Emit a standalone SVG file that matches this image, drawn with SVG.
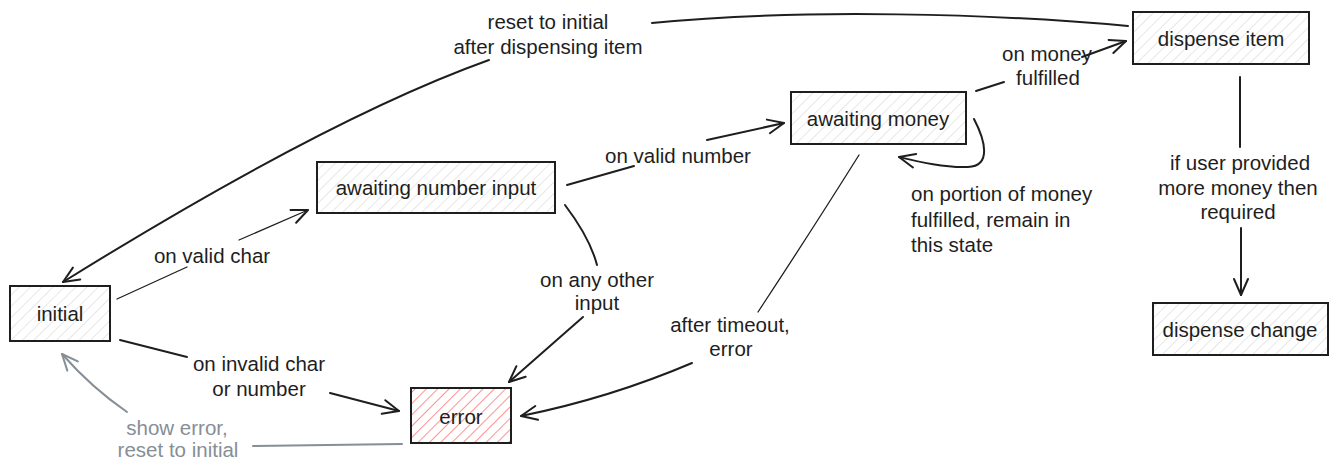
<svg xmlns="http://www.w3.org/2000/svg" width="1337" height="471" viewBox="0 0 1337 471">
  <defs>
    <pattern id="hatchGray" patternUnits="userSpaceOnUse" width="8" height="8" patternTransform="rotate(45)">
      <line x1="0" y1="0" x2="0" y2="8" stroke="#cfcfcf" stroke-width="1"/>
    </pattern>
    <pattern id="hatchRed" patternUnits="userSpaceOnUse" width="8" height="8" patternTransform="rotate(45)">
      <line x1="0" y1="0" x2="0" y2="8" stroke="#ff8080" stroke-width="1.7"/>
    </pattern>
    <marker id="arrow" markerUnits="userSpaceOnUse" viewBox="-18 -10 20 20" refX="0" refY="0" markerWidth="20" markerHeight="20" orient="auto">
      <path d="M -16 -7 L 0 0 L -16 7" fill="none" stroke="#1e1e1e" stroke-width="2" stroke-linecap="round" stroke-linejoin="round"/>
    </marker>
    <marker id="arrowGray" markerUnits="userSpaceOnUse" viewBox="-18 -10 20 20" refX="0" refY="0" markerWidth="20" markerHeight="20" orient="auto">
      <path d="M -16 -7 L 0 0 L -16 7" fill="none" stroke="#868e96" stroke-width="2" stroke-linecap="round" stroke-linejoin="round"/>
    </marker>
  </defs>
  <style>
    .node rect { stroke: #1e1e1e; stroke-width: 2; }
    .plain { fill: url(#hatchGray); }
    .err { fill: url(#hatchRed); }
    text { font-family: "Liberation Sans", Arial, sans-serif; font-size: 20.5px; fill: #1e1e1e; }
    .c { text-anchor: middle; dominant-baseline: central; }
    .l { text-anchor: start; dominant-baseline: central; }
    .gray { fill: #868e96; }
    .edge { fill: none; stroke: #1e1e1e; stroke-width: 2; stroke-linecap: round; }
    .thin { stroke-width: 1.3; }
    .grayline { fill: none; stroke: #868e96; stroke-width: 2; stroke-linecap: round; }
  </style>
  <rect width="1337" height="471" fill="#ffffff"/>

  <g id="connectors">
    <!-- dispense item -> initial -->
    <path class="edge" d="M 1128 26 C 1000 14, 800 8, 652 23"/>
    <path class="edge" d="M 489 60 Q 327 118 63 282" marker-end="url(#arrow)"/>
    <!-- initial -> awaiting number input -->
    <path class="edge thin" d="M 117 299 L 187 267"/>
    <path class="edge thin" d="M 239 240 L 308 210" marker-end="url(#arrow)"/>
    <!-- awaiting number input -> awaiting money -->
    <path class="edge" d="M 567 185 L 634 166"/>
    <path class="edge" d="M 707 140 L 784 123" marker-end="url(#arrow)"/>
    <!-- awaiting money -> dispense item -->
    <path class="edge" d="M 976 91 L 1004 82"/>
    <path class="edge" d="M 1082 57 L 1126 41" marker-end="url(#arrow)"/>
    <!-- awaiting money self loop -->
    <path class="edge" d="M 974 119 C 985 140, 992 166, 968 167 C 945 168, 920 162, 899 157" marker-end="url(#arrow)"/>
    <!-- dispense item -> dispense change -->
    <path class="edge" d="M 1240 77 L 1240 147"/>
    <path class="edge" d="M 1241 228 L 1241 295" marker-end="url(#arrow)"/>
    <!-- awaiting number input -> error -->
    <path class="edge" d="M 565 205 Q 590 238 597 265"/>
    <path class="edge" d="M 583 317 L 509 382" marker-end="url(#arrow)"/>
    <!-- awaiting money -> error -->
    <path class="edge thin" d="M 859 155 Q 812 230 758 312"/>
    <path class="edge" d="M 692 363 Q 610 398 521 416" marker-end="url(#arrow)"/>
    <!-- initial -> error -->
    <path class="edge" d="M 120 340 L 187 357"/>
    <path class="edge" d="M 330 393 L 399 411" marker-end="url(#arrow)"/>
    <!-- error -> initial (gray) -->
    <path class="grayline" d="M 402 444 L 253 446"/>
    <path class="grayline" d="M 127 412 Q 92 388 62 354" marker-end="url(#arrowGray)"/>

    <!-- connector labels -->
    <text class="c" x="548" y="21">reset to initial</text>
    <text class="c" x="548" y="46">after dispensing item</text>
    <text class="c" x="212" y="255">on valid char</text>
    <text class="c" x="678" y="155">on valid number</text>
    <text class="c" x="1047" y="53">on money</text>
    <text class="c" x="1048" y="77">fulfilled</text>
    <text class="l" x="911" y="193">on portion of money</text>
    <text class="l" x="911" y="219">fulfilled, remain in</text>
    <text class="l" x="911" y="244">this state</text>
    <text class="c" x="1240" y="162">if user provided</text>
    <text class="c" x="1238" y="187">more money then</text>
    <text class="c" x="1238" y="211">required</text>
    <text class="c" x="597" y="279">on any other</text>
    <text class="c" x="597" y="302">input</text>
    <text class="c" x="730" y="324">after timeout,</text>
    <text class="c" x="731" y="348">error</text>
    <text class="c" x="259" y="363">on invalid char</text>
    <text class="c" x="259" y="388">or number</text>
    <text class="c gray" x="177" y="427">show error,</text>
    <text class="c gray" x="178" y="449">reset to initial</text>
  </g>

  <g id="node-initial" class="node">
    <rect class="plain" x="10" y="286" width="100" height="55"/>
    <text class="c" x="60" y="313">initial</text>
  </g>
  <g id="node-awaiting-number-input" class="node">
    <rect class="plain" x="317" y="162" width="238" height="51"/>
    <text class="c" x="436" y="187">awaiting number input</text>
  </g>
  <g id="node-awaiting-money" class="node">
    <rect class="plain" x="791" y="92" width="175" height="52"/>
    <text class="c" x="878" y="118">awaiting money</text>
  </g>
  <g id="node-dispense-item" class="node">
    <rect class="plain" x="1133" y="12" width="176" height="52"/>
    <text class="c" x="1221" y="38">dispense item</text>
  </g>
  <g id="node-dispense-change" class="node">
    <rect class="plain" x="1153" y="303" width="175" height="52"/>
    <text class="c" x="1240" y="329">dispense change</text>
  </g>
  <g id="node-error" class="node">
    <rect class="err" x="411" y="388" width="100" height="55"/>
    <text class="c" x="461" y="416">error</text>
  </g>
</svg>
